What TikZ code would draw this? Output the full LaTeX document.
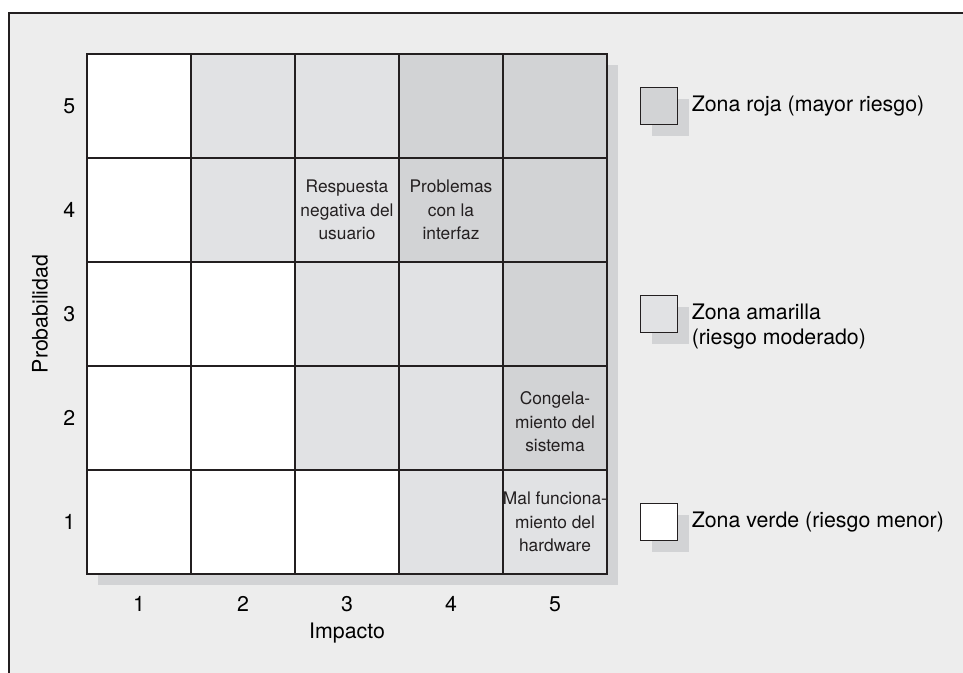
\documentclass[tikz,border=0pt]{standalone}
\usepackage{fontspec}
\setmainfont{TeX Gyre Heros}
\usetikzlibrary{positioning}
\definecolor{fondo}{HTML}{EDEDED}
\definecolor{sombra}{HTML}{D2D3D5}
\definecolor{lineas}{HTML}{231F20}
\definecolor{zonaR}{HTML}{D2D3D5}
\definecolor{zonaA}{HTML}{E1E2E4}
\definecolor{zonaV}{HTML}{FFFFFF}

\begin{document}
\begin{tikzpicture}[x=78pt,y=78pt,
  celda/.style={draw=lineas, line width=0.9pt, minimum size=78pt, inner sep=0pt, outer sep=0pt},
  textocelda/.style={align=center, font=\fontsize{13}{17.6}\selectfont, text=lineas},
  eje/.style={font=\fontsize{16}{19}\selectfont, text=black},
  muestra/.style={draw=lineas, line width=1.1pt, minimum size=27.75pt, inner sep=0pt, outer sep=0pt},
  leyenda/.style={font=\fontsize{16}{18.75}\selectfont, align=left, inner sep=0pt}]

  % fondo y marco
  \useasboundingbox (-0.8365,-0.9519) rectangle (8.4231,5.5192);
  \fill[fondo] (-0.75,-0.9519) rectangle (8.4231,5.394);
  \draw[lineas, line width=2.2pt] (-0.75,-0.9519) -- (-0.75,5.394) -- (8.4231,5.394);

  % sombra de la matriz
  \fill[sombra] (0.106,-0.106) rectangle (5.106,4.894);

  % celdas de la matriz
  \foreach \fila/\tonos in {5/{V,A,A,R,R}, 4/{V,A,A,R,R}, 3/{V,V,A,A,R}, 2/{V,V,A,A,R}, 1/{V,V,V,A,A}}
    \foreach \tono [count=\col] in \tonos
      \node[celda, fill=zona\tono] (c-\col-\fila) at (\col-0.5,\fila-0.5) {};
  \draw[lineas, line width=2pt] (c-1-1.south west) rectangle (c-5-5.north east);

  % riesgos
  \node[textocelda] (respuesta) at (c-3-4) {Respuesta\\negativa del\\usuario};
  \node[textocelda] (interfaz) at (c-4-4) {Problemas\\con la\\interfaz};
  \node[textocelda] (congela) at ([yshift=-3pt]c-5-2) {Congela-\\miento del\\sistema};
  \node[textocelda] (hardware) at (c-5-1) {Mal funciona-\\miento del\\hardware};

  % ejes
  \foreach \n in {1,...,5} {
    \node[eje] (p\n) at (-0.17,\n-0.5) {\n};
    \node[eje] (i\n) at (\n-0.5,-0.29) {\n};
  }
  \node[eje] (impacto) at (2.5,-0.567) {Impacto};
  \node[eje, rotate=90] (probabilidad) at (-0.452,2.5) {Probabilidad};

  % leyenda
  \foreach \zona/\y/\nom in {R/4.5/roja, A/2.5/amarilla, V/0.5/verde} {
    \fill[sombra] (5.606,\y-0.106) ++(-13.875pt,-13.875pt) rectangle ++(27.75pt,27.75pt);
    \node[muestra, fill=zona\zona] (m-\nom) at (5.5,\y) {};
  }
  \node[leyenda, right=10.5pt of m-roja] (t-roja) {Zona roja (mayor riesgo)};
  \node[leyenda, right=10.5pt of m-amarilla, yshift=-9.4pt] (t-amarilla) {Zona amarilla\\(riesgo moderado)};
  \node[leyenda, right=10.5pt of m-verde] (t-verde) {Zona verde (riesgo menor)};
\end{tikzpicture}
\end{document}
